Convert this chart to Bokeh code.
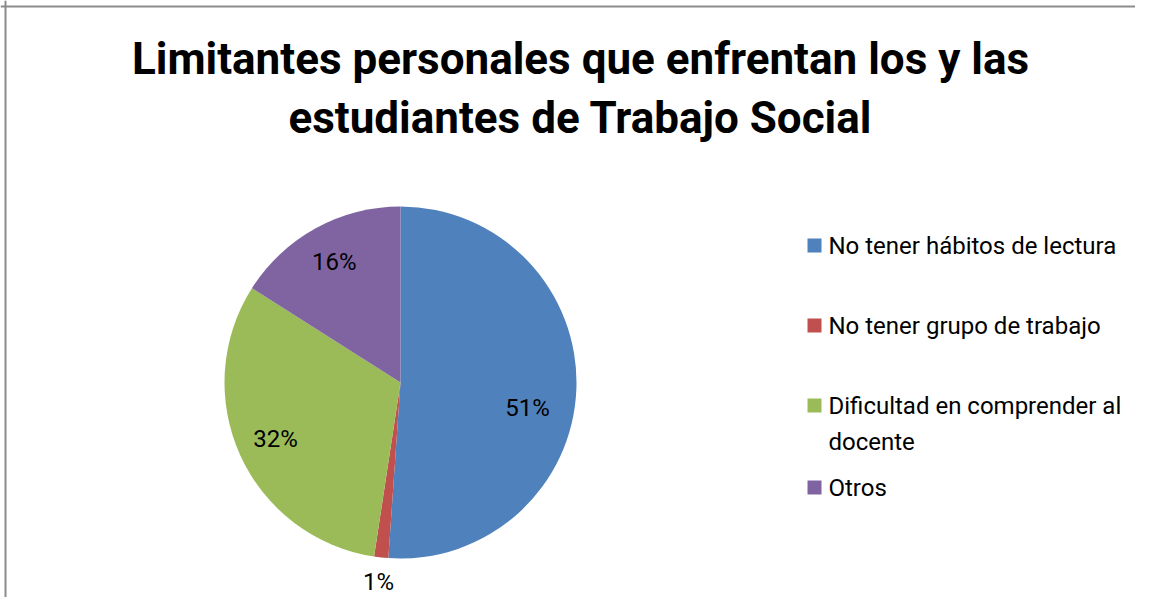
import math
from bokeh.plotting import figure
from bokeh.models import Range1d, Span, ColumnDataSource
from bokeh.core.properties import value
from bokeh.embed import file_html
from bokeh.resources import INLINE

title_lines = ["Limitantes personales que enfrentan los y las", "estudiantes de Trabajo Social"]
categories = ["No tener hábitos de lectura", "No tener grupo de trabajo",
              "Dificultad en comprender al\ndocente", "Otros"]
percents = [51.1, 1.3, 31.6, 16.0]
colors = ["#4F81BD", "#C0504D", "#9BBB59", "#8064A2"]

W, H = 1135, 597
FONT = "Roboto"

p = figure(width=W, height=H, output_backend="svg", toolbar_location=None,
           x_range=Range1d(0, W), y_range=Range1d(0, H), min_border=0)
p.axis.visible = False
p.grid.visible = False
p.outline_line_color = None
p.background_fill_color = "white"

# frame lines (top and left, as in the cropped reference)
p.add_layout(Span(location=5, dimension="height", line_color="#8C8C8C", line_width=2))
p.add_layout(Span(location=H - 6, dimension="width", line_color="#8C8C8C", line_width=2))

# title
p.text(x=[580, 580], y=[H - 58, H - 117], text=title_lines, text_font=value(FONT),
       text_font_style="bold", text_font_size="44px", text_align="center",
       text_baseline="middle", text_color="black")

# pie
cx, cy, r = 400, H - 382, 176
total = sum(percents)
starts, ends, mids = [], [], []
cum = 0.0
for v in percents:
    a0 = math.pi / 2 - 2 * math.pi * cum / total
    a1 = math.pi / 2 - 2 * math.pi * (cum + v) / total
    starts.append(a0)
    ends.append(a1)
    mids.append((a0 + a1) / 2)
    cum += v
src = ColumnDataSource(dict(start=starts, end=ends, color=colors))
p.wedge(x=cx, y=cy, radius=r, start_angle="start", end_angle="end",
        direction="clock", fill_color="color", line_color=None, source=src)

# data labels (best-fit style: largest slice label sits a little lower)
lx, ly, lt = [], [], []
for i, (v, m) in enumerate(zip(percents, mids)):
    f = 1.14 if v < 5 else 0.78
    a = m - (0.15 if i == 0 else 0.0)
    lx.append(cx + f * r * math.cos(a) - (8 if i == 0 else 0))
    ly.append(cy + f * r * math.sin(a))
    lt.append(f"{round(v)}%")
p.text(x=lx, y=ly, text=lt, text_font=value(FONT), text_font_size="24px",
       text_align="center", text_baseline="middle", text_color="black")

# legend
leg_y = [H - 245, H - 325, H - 405, H - 487]
p.rect(x=[814] * 4, y=leg_y, width=14, height=14, fill_color=colors, line_color=None)
p.text(x=[828] * 4, y=[y + 14 for y in leg_y], text=categories, text_font=value(FONT),
       text_font_size="24px", text_align="left", text_baseline="top",
       text_line_height=1.3, text_color="black")

open("out.html", "w").write(file_html(p, INLINE))
